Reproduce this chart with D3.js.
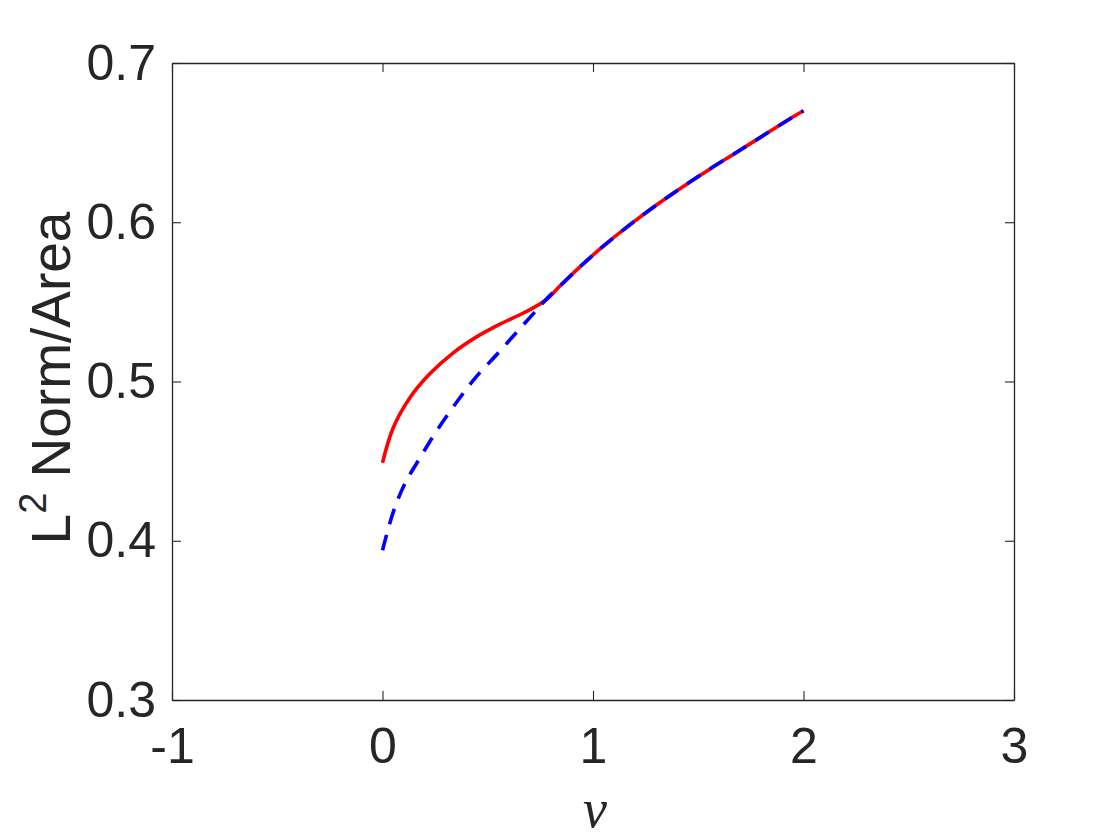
<!DOCTYPE html>
<html>
<head>
<meta charset="utf-8">
<script src="https://cdn.jsdelivr.net/npm/d3@7"></script>
<style>
  html, body { margin: 0; padding: 0; background: #fff; }
  svg { display: block; }
</style>
</head>
<body>
<svg id="chart" width="1120" height="840"></svg>
<script>
// ---- data ----
const xTicks = [-1, 0, 1, 2, 3];
const yTicks = [0.3, 0.4, 0.5, 0.6, 0.7];
const xTickLabels = ["-1", "0", "1", "2", "3"];
const yTickLabels = ["0.3", "0.4", "0.5", "0.6", "0.7"];

// red solid series
const redNu = [0, 0.051, 0.131, 0.226, 0.336, 0.447, 0.558, 0.669, 0.775,
               0.843, 0.938, 1.049, 1.176, 1.303, 1.429, 1.556, 1.683, 1.809, 1.936, 2.0];
const redVal = [0.449, 0.471, 0.490, 0.505, 0.518, 0.528, 0.536, 0.543, 0.551,
                0.560, 0.572, 0.585, 0.5985, 0.611, 0.6225, 0.6335, 0.644, 0.6545, 0.665, 0.670];

// blue dashed series
const blueNu = [0, 0.051, 0.107, 0.178, 0.257, 0.352, 0.439, 0.543, 0.638, 0.733, 0.78,
                0.843, 0.938, 1.049, 1.176, 1.303, 1.429, 1.556, 1.683, 1.809, 1.936, 2.0];
const blueVal = [0.394, 0.418, 0.436, 0.452, 0.469, 0.487, 0.502, 0.517, 0.531, 0.545, 0.552,
                 0.560, 0.572, 0.585, 0.5985, 0.611, 0.6225, 0.6335, 0.644, 0.6545, 0.665, 0.670];

const xLabel = "ν";
const yLabelMain = "L";
const yLabelSup = "2";
const yLabelRest = " Norm/Area";

// ---- layout ----
const svg = d3.select("#chart");
const mLeft = 172, mRight = 1014, mTop = 63, mBottom = 700;
const x = d3.scaleLinear().domain([-1, 3]).range([mLeft, mRight]);
const y = d3.scaleLinear().domain([0.3, 0.7]).range([mBottom, mTop]);
const axisColor = "#262626";
const font = "'Liberation Sans', Arial, Helvetica, sans-serif";
const tickLen = 9;

// curves
const line = d3.line().x(d => x(d[0])).y(d => y(d[1])).curve(d3.curveCatmullRom.alpha(0.5));
const red = redNu.map((v, i) => [v, redVal[i]]);
const blue = blueNu.map((v, i) => [v, blueVal[i]]);

svg.append("path").datum(red).attr("d", line)
  .attr("fill", "none").attr("stroke", "#ff0000").attr("stroke-width", 3.6);
svg.append("path").datum(blue).attr("d", line)
  .attr("fill", "none").attr("stroke", "#0000ff").attr("stroke-width", 3.6)
  .attr("stroke-dasharray", "16,11");

// axes (box with inward ticks)
const gB = svg.append("g").attr("transform", `translate(0,${mBottom})`)
  .call(d3.axisBottom(x).tickValues(xTicks).tickSizeInner(-tickLen).tickSizeOuter(0)
    .tickFormat((d, i) => xTickLabels[i]).tickPadding(27));
const gT = svg.append("g").attr("transform", `translate(0,${mTop})`)
  .call(d3.axisTop(x).tickValues(xTicks).tickSizeInner(-tickLen).tickSizeOuter(0).tickFormat(""));
const gL = svg.append("g").attr("transform", `translate(${mLeft},0)`)
  .call(d3.axisLeft(y).tickValues(yTicks).tickSizeInner(-tickLen).tickSizeOuter(0)
    .tickFormat((d, i) => yTickLabels[i]).tickPadding(16));
const gR = svg.append("g").attr("transform", `translate(${mRight},0)`)
  .call(d3.axisRight(y).tickValues(yTicks).tickSizeInner(-tickLen).tickSizeOuter(0).tickFormat(""));

[gB, gT, gL, gR].forEach(g => {
  g.select(".domain").attr("stroke", axisColor).attr("stroke-width", 1.3);
  g.selectAll(".tick line").attr("stroke", axisColor).attr("stroke-width", 1.1);
  g.selectAll(".tick text").attr("fill", axisColor)
    .style("font-family", font).style("font-size", "50px");
});
gB.selectAll(".tick text").attr("dy", "0.71em");

// x label
svg.append("text").attr("x", 595).attr("y", 827)
  .attr("text-anchor", "middle").attr("fill", axisColor)
  .style("font-family", "'Liberation Serif', 'Times New Roman', serif")
  .style("font-style", "italic").style("font-size", "54px").text(xLabel);

// y label
const yl = svg.append("text")
  .attr("transform", `translate(70,378) rotate(-90)`)
  .attr("text-anchor", "middle").attr("fill", axisColor)
  .style("font-family", font).style("font-size", "55px");
yl.append("tspan").text(yLabelMain);
yl.append("tspan").attr("dy", -24).style("font-size", "38px").text(yLabelSup);
yl.append("tspan").attr("dy", 24).text(yLabelRest);
</script>
</body>
</html>
